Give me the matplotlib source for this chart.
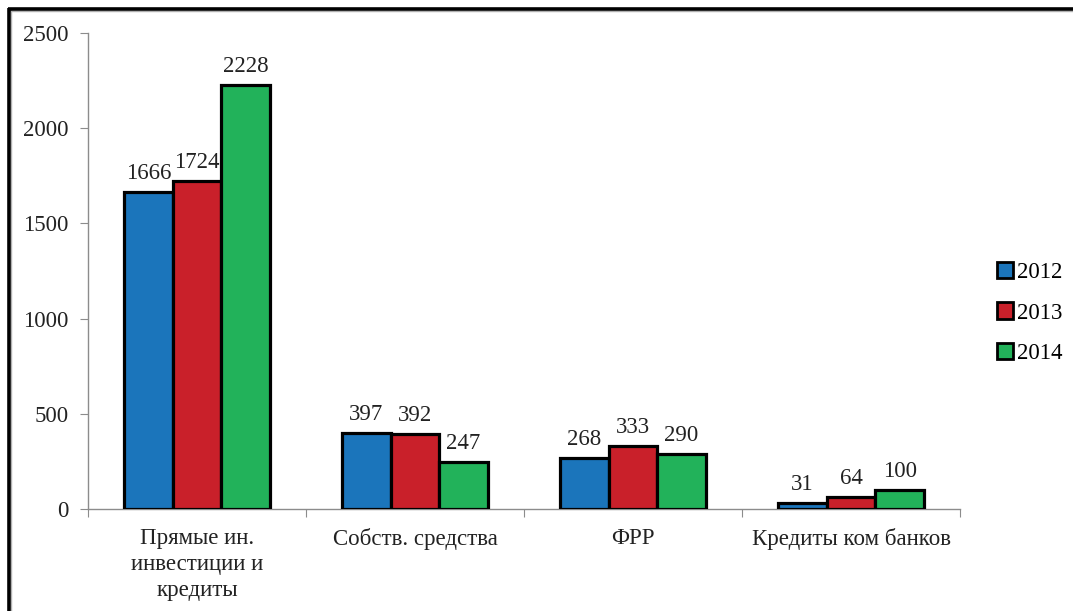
import matplotlib
matplotlib.use("Agg")
import matplotlib.pyplot as plt
from matplotlib.lines import Line2D
from matplotlib.patches import Patch
import numpy as np

categories = ["Прямые ин.\nинвестиции и\nкредиты", "Собств. средства", "ФРР", "Кредиты ком банков"]
years = ["2012", "2013", "2014"]
v2012 = [1666, 397, 268, 31]
v2013 = [1724, 392, 333, 64]
v2014 = [2228, 247, 290, 100]
colors = ["#1B75BB", "#C9202A", "#22B25A"]

plt.rcParams['font.family'] = ['Liberation Serif', 'DejaVu Serif']
FS = 16.5

W, H = 1073, 611
fig = plt.figure(figsize=(W/100, H/100), dpi=100)
ax = fig.add_axes([88/W, 1-509/H, (960-88)/W, (509-33)/H])

x = np.arange(len(categories))
bw = 0.223
series = [v2012, v2013, v2014]
for i, (vals, c) in enumerate(zip(series, colors)):
    pos = x + (i-1)*bw
    ax.bar(pos, vals, width=bw, color=c, edgecolor='black', linewidth=2.3, zorder=3)
    for p, v in zip(pos, vals):
        ax.text(p, v + 42, str(v), ha='center', va='bottom', fontsize=FS, color='#222222')

ax.set_xlim(-0.5, len(categories)-0.5)
ax.set_ylim(0, 2500)
ax.set_yticks([0, 500, 1000, 1500, 2000, 2500])
ax.set_xticks(np.arange(-0.5, len(categories), 1.0))
ax.set_xticklabels([])
ax.set_xticks(x, minor=True)
ax.set_xticklabels(categories, minor=True, fontsize=FS, color='#222222', linespacing=1.3)
ax.tick_params(axis='x', which='minor', length=0, pad=14)
ax.tick_params(axis='x', which='major', length=6, direction='out', color='#8c8c8c')
ax.tick_params(axis='y', length=6, direction='out', color='#8c8c8c', labelsize=FS, labelcolor='#222222', pad=8)
for s in ['top', 'right']:
    ax.spines[s].set_visible(False)
for s in ['left', 'bottom']:
    ax.spines[s].set_color('#8c8c8c')
    ax.spines[s].set_linewidth(1.0)

handles = [Patch(facecolor=c, edgecolor='black', linewidth=2.0) for c in colors]
leg = fig.legend(handles, years, loc='center left', bbox_to_anchor=(988/W, 1-313/H),
                 frameon=False, fontsize=FS, handlelength=0.7, handleheight=0.7,
                 handletextpad=0.15, labelspacing=0.85, borderaxespad=0)

# figure frame lines (top and left) with light shadow
fig.add_artist(Line2D([8/W, 1], [1-11/H, 1-11/H], color='#b0b0b0', linewidth=1.0, transform=fig.transFigure))
fig.add_artist(Line2D([11/W, 11/W], [0, 1-10/H], color='#b0b0b0', linewidth=1.0, transform=fig.transFigure))
fig.add_artist(Line2D([8/W, 1], [1-9/H, 1-9/H], color='black', linewidth=2.6, transform=fig.transFigure, solid_capstyle='butt'))
fig.add_artist(Line2D([9/W, 9/W], [0, 1-8/H], color='black', linewidth=2.6, transform=fig.transFigure, solid_capstyle='butt'))

fig.savefig("out.png", dpi=100)
